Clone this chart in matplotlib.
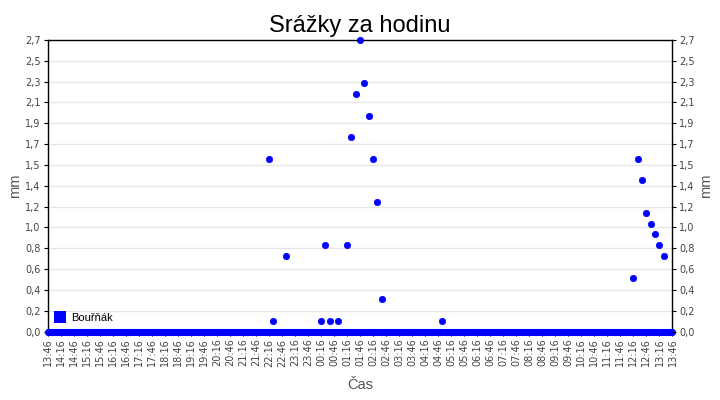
import matplotlib
matplotlib.use("Agg")
import matplotlib.pyplot as plt
from matplotlib.lines import Line2D
from datetime import datetime, timedelta

plt.rcParams['font.family'] = ['Liberation Sans', 'DejaVu Sans']

title = "Srážky za hodinu"
series_name = "Bouřňák"
x_label = "Čas"
y_label = "mm"

start_time = "13:46"
step_minutes = 2.5

# hourly rain (mm), one reading every 2.5 minutes (one row = one hour)
values = [
    0, 0, 0, 0,  0, 0, 0, 0,  0, 0, 0, 0,  0, 0, 0, 0,  0, 0, 0, 0,  0, 0, 0, 0,          # 13:46
    0, 0, 0, 0,  0, 0, 0, 0,  0, 0, 0, 0,  0, 0, 0, 0,  0, 0, 0, 0,  0, 0, 0, 0,          # 14:46
    0, 0, 0, 0,  0, 0, 0, 0,  0, 0, 0, 0,  0, 0, 0, 0,  0, 0, 0, 0,  0, 0, 0, 0,          # 15:46
    0, 0, 0, 0,  0, 0, 0, 0,  0, 0, 0, 0,  0, 0, 0, 0,  0, 0, 0, 0,  0, 0, 0, 0,          # 16:46
    0, 0, 0, 0,  0, 0, 0, 0,  0, 0, 0, 0,  0, 0, 0, 0,  0, 0, 0, 0,  0, 0, 0, 0,          # 17:46
    0, 0, 0, 0,  0, 0, 0, 0,  0, 0, 0, 0,  0, 0, 0, 0,  0, 0, 0, 0,  0, 0, 0, 0,          # 18:46
    0, 0, 0, 0,  0, 0, 0, 0,  0, 0, 0, 0,  0, 0, 0, 0,  0, 0, 0, 0,  0, 0, 0, 0,          # 19:46
    0, 0, 0, 0,  0, 0, 0, 0,  0, 0, 0, 0,  0, 0, 0, 0,  0, 0, 0, 0,  0, 0, 0, 0,          # 20:46
    0, 0, 0, 0,  0, 0, 0, 0,  0, 0, 0, 0,  1.6, 0, 0, 0,  0.1, 0, 0, 0,  0, 0, 0, 0,      # 21:46
    0, 0, 0, 0,  0.7, 0, 0, 0,  0, 0, 0, 0,  0, 0, 0, 0,  0, 0, 0, 0,  0, 0, 0, 0,        # 22:46
    0, 0, 0, 0,  0, 0, 0, 0,  0, 0, 0, 0,  0.1, 0, 0, 0,  0.8, 0, 0, 0,  0.1, 0, 0, 0,    # 23:46
    0, 0, 0, 0,  0.1, 0, 0, 0,  0, 0, 0, 0,  0.8, 0, 0, 0,  1.8, 0, 0, 0,  2.2, 0, 0, 0,  # 00:46
    2.7, 0, 0, 0,  2.3, 0, 0, 0,  2.0, 0, 0, 0,  1.6, 0, 0, 0,  1.2, 0, 0, 0,  0.3, 0, 0, 0,  # 01:46
    0, 0, 0, 0,  0, 0, 0, 0,  0, 0, 0, 0,  0, 0, 0, 0,  0, 0, 0, 0,  0, 0, 0, 0,          # 02:46
    0, 0, 0, 0,  0, 0, 0, 0,  0, 0, 0, 0,  0, 0, 0, 0,  0, 0, 0, 0,  0, 0, 0, 0,          # 03:46
    0, 0, 0, 0,  0.1, 0, 0, 0,  0, 0, 0, 0,  0, 0, 0, 0,  0, 0, 0, 0,  0, 0, 0, 0,        # 04:46
    0, 0, 0, 0,  0, 0, 0, 0,  0, 0, 0, 0,  0, 0, 0, 0,  0, 0, 0, 0,  0, 0, 0, 0,          # 05:46
    0, 0, 0, 0,  0, 0, 0, 0,  0, 0, 0, 0,  0, 0, 0, 0,  0, 0, 0, 0,  0, 0, 0, 0,          # 06:46
    0, 0, 0, 0,  0, 0, 0, 0,  0, 0, 0, 0,  0, 0, 0, 0,  0, 0, 0, 0,  0, 0, 0, 0,          # 07:46
    0, 0, 0, 0,  0, 0, 0, 0,  0, 0, 0, 0,  0, 0, 0, 0,  0, 0, 0, 0,  0, 0, 0, 0,          # 08:46
    0, 0, 0, 0,  0, 0, 0, 0,  0, 0, 0, 0,  0, 0, 0, 0,  0, 0, 0, 0,  0, 0, 0, 0,          # 09:46
    0, 0, 0, 0,  0, 0, 0, 0,  0, 0, 0, 0,  0, 0, 0, 0,  0, 0, 0, 0,  0, 0, 0, 0,          # 10:46
    0, 0, 0, 0,  0, 0, 0, 0,  0, 0, 0, 0,  0.5, 0, 0, 0,  1.6, 0, 0, 0,  1.4, 0, 0, 0,    # 11:46
    1.1, 0, 0, 0,  1.0, 0, 0, 0,  0.9, 0, 0, 0,  0.8, 0, 0, 0,  0.7, 0, 0, 0,  0, 0, 0, 0,  # 12:46
    0,                                                                                     # 13:46
]

y_max = 2.7
y_tick_labels = ["0,0", "0,2", "0,4", "0,6", "0,8", "1,0", "1,2", "1,4",
                 "1,5", "1,7", "1,9", "2,1", "2,3", "2,5", "2,7"]
x_label_every = 12

t0 = datetime.strptime(start_time, "%H:%M")
times = [(t0 + timedelta(minutes=step_minutes * i)).strftime("%H:%M")
         for i in range(len(values))]
xs = list(range(len(values)))

fig = plt.figure(figsize=(7.2, 4.0), dpi=100)
ax = fig.add_axes([0.066, 0.171, 0.868, 0.729])

n_ticks = len(y_tick_labels)
y_ticks = [y_max * i / (n_ticks - 1) for i in range(n_ticks)]

tick_font = dict(family=['DejaVu Sans'], size=7)

ax.set_ylim(0, y_max)
ax.set_xlim(0, len(values) - 1)
ax.set_yticks(y_ticks)
ax.set_yticklabels(y_tick_labels, **tick_font)
ax.grid(axis='y', color='#e6e6e6', linewidth=1)
ax.set_axisbelow(True)

tick_pos = xs[::x_label_every]
ax.set_xticks(tick_pos)
ax.set_xticklabels([times[i] for i in tick_pos], rotation=90, **tick_font)

ax.plot(xs, values, linestyle='none', marker='o', markersize=4.6,
        color='#0000ff', markeredgewidth=0.5, markeredgecolor='#0000ff',
        antialiased=False, clip_on=False, zorder=5)

for sp in ax.spines.values():
    sp.set_color('black')
    sp.set_linewidth(1)

ax.tick_params(axis='both', labelcolor='#444444', length=3,
               width=0.8, color='black', pad=2)
ax.set_title(title, fontsize=17, pad=6)
ax.set_xlabel(x_label, fontsize=10.5, color='#555555', labelpad=8)
ax.set_ylabel(y_label, fontsize=10.5, color='#555555', labelpad=2)

ax2 = ax.twinx()
ax2.set_ylim(0, y_max)
ax2.set_yticks(y_ticks)
ax2.set_yticklabels(y_tick_labels, **tick_font)
ax2.tick_params(axis='y', labelcolor='#444444', length=3,
                width=0.8, color='black', pad=2)
ax2.set_ylabel(y_label, fontsize=10.5, color='#555555', labelpad=3)
for sp in ax2.spines.values():
    sp.set_visible(False)

handle = Line2D([], [], linestyle='none', marker='s', markersize=8,
                color='#0000ff', markeredgewidth=0)
ax.legend([handle], [series_name], loc='lower left', frameon=False,
          fontsize=8, handletextpad=0.4, borderaxespad=0.0,
          bbox_to_anchor=(0.002, 0.015), handlelength=1.2)

fig.savefig("out.png", dpi=100)
